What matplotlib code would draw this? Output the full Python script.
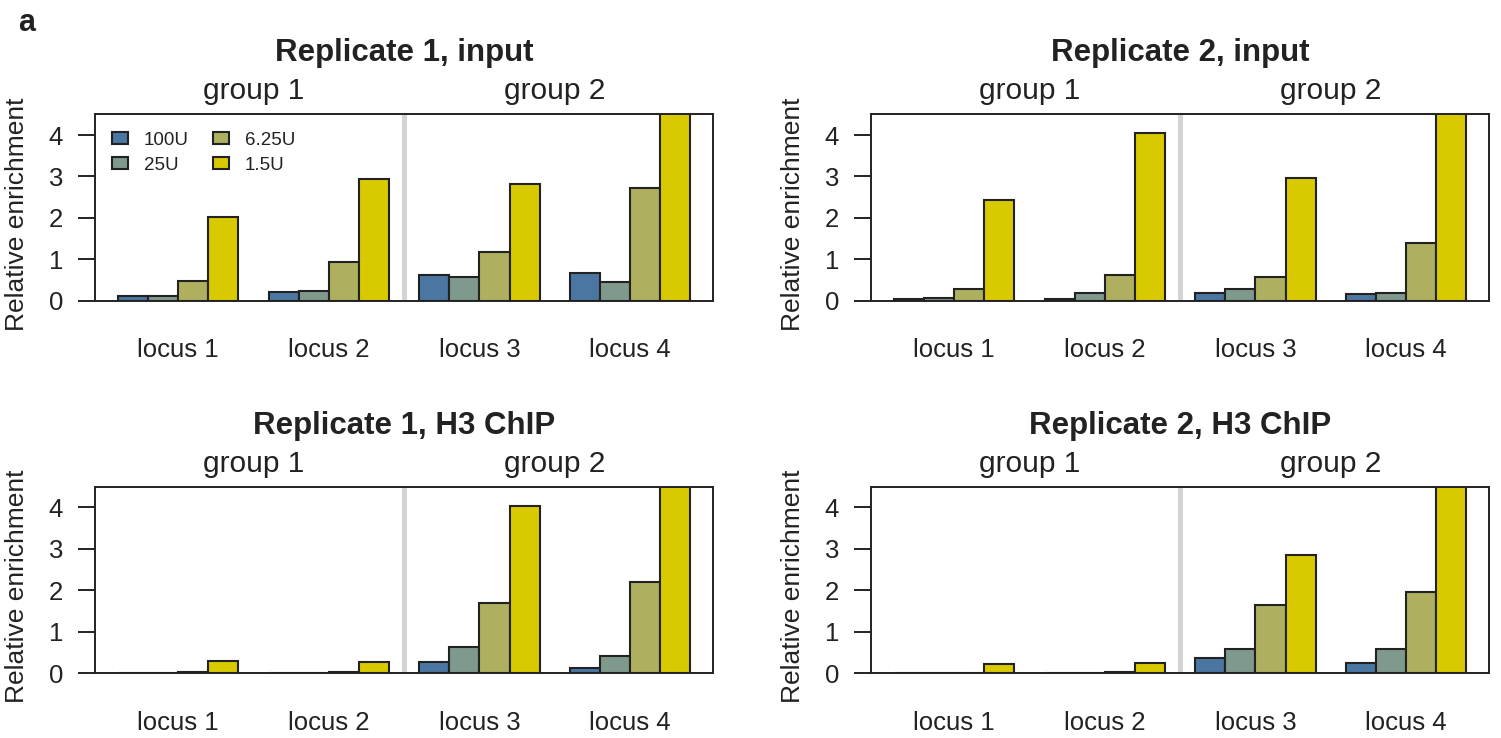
import numpy as np
import matplotlib
matplotlib.use("Agg")
import matplotlib.pyplot as plt

plt.rcParams['font.family'] = ['Liberation Sans', 'DejaVu Sans']

# data
loci = ['locus 1', 'locus 2', 'locus 3', 'locus 4']
groups = ['group 1', 'group 2']
series = ['100U', '25U', '6.25U', '1.5U']
colors = ['#4a76a1', '#7f9a8c', '#aeb060', '#d9c900']

titles = ['Replicate 1, input', 'Replicate 2, input',
          'Replicate 1, H3 ChIP', 'Replicate 2, H3 ChIP']

# rows = series (100U, 25U, 6.25U, 1.5U), columns = loci
rep1_input = [[0.12, 0.20, 0.63, 0.67],
              [0.12, 0.24, 0.57, 0.46],
              [0.48, 0.94, 1.17, 2.71],
              [2.01, 2.94, 2.81, 4.90]]
rep2_input = [[0.03, 0.05, 0.19, 0.15],
              [0.07, 0.18, 0.28, 0.19],
              [0.29, 0.63, 0.57, 1.39],
              [2.43, 4.06, 2.96, 4.90]]
rep1_chip = [[0.005, 0.005, 0.26, 0.13],
             [0.005, 0.01, 0.63, 0.42],
             [0.02, 0.03, 1.69, 2.20],
             [0.29, 0.28, 4.04, 4.90]]
rep2_chip = [[0.005, 0.005, 0.36, 0.25],
             [0.005, 0.01, 0.58, 0.58],
             [0.01, 0.03, 1.64, 1.95],
             [0.22, 0.24, 2.84, 4.90]]
panels = [rep1_input, rep2_input, rep1_chip, rep2_chip]

W, H = 1501, 738
fig = plt.figure(figsize=(W / 100, H / 100), dpi=100)

ink = '#222222'
ax_w, ax_h = 618.3, 186.4
lefts = [95, 871, 95, 871]
tops = [114.3, 114.3, 486.7, 486.7]

for k, vals in enumerate(panels):
    ax = fig.add_axes([lefts[k] / W, 1 - (tops[k] + ax_h) / H, ax_w / W, ax_h / H])
    vals = np.array(vals)
    base = 1 + 5 * np.arange(len(loci))  # R barplot, space=c(0,1)
    for j, s in enumerate(series):
        ax.bar(base + j + 0.5, vals[j], width=1, color=colors[j],
               edgecolor=ink, linewidth=1.5, label=s, zorder=2)
    ax.axvline(10.5, color='#d4d4d4', lw=3.6, zorder=1)

    ax.set_xlim(0.24, 20.76)
    ax.set_ylim(0, 4.5)
    ax.set_yticks([0, 1, 2, 3, 4])
    ax.set_xticks(base + 2)
    ax.set_xticklabels(loci)
    ax.tick_params(axis='x', length=0, pad=27, labelsize=18.5, labelcolor=ink)
    ax.tick_params(axis='y', length=12, width=1.4, pad=11, labelsize=18.5,
                   color=ink, labelcolor=ink)
    for sp in ax.spines.values():
        sp.set_linewidth(1.4)
        sp.set_color(ink)

    ax.text(-0.126, 0.465, 'Relative enrichment', rotation=90, ha='center',
            va='center', fontsize=19, color=ink, transform=ax.transAxes)

    ax.annotate(titles[k], xy=(0.5, 1), xycoords='axes fraction',
                xytext=(0, 53), textcoords='offset pixels', ha='center',
                va='baseline', fontsize=22.5, fontweight='bold', color=ink)
    for g, gx in zip(groups, [5.5, 15.5]):
        ax.annotate(g, xy=(gx, 1), xycoords=('data', 'axes fraction'),
                    xytext=(0, 15), textcoords='offset pixels', ha='center',
                    va='baseline', fontsize=21.5, color=ink)

    if k == 0:
        ax.legend(loc='upper left', bbox_to_anchor=(0.0275, 0.905), ncol=2,
                  frameon=False, fontsize=13.5, handlelength=0.86,
                  handleheight=0.6, handletextpad=0.85, columnspacing=1.25,
                  labelspacing=0.4, borderpad=0, borderaxespad=0,
                  labelcolor=ink)

fig.text(18 / W, 1 - 31 / H, 'a', fontsize=22, fontweight='bold', color=ink,
         ha='left', va='baseline')

fig.savefig('out.png', dpi=100)
